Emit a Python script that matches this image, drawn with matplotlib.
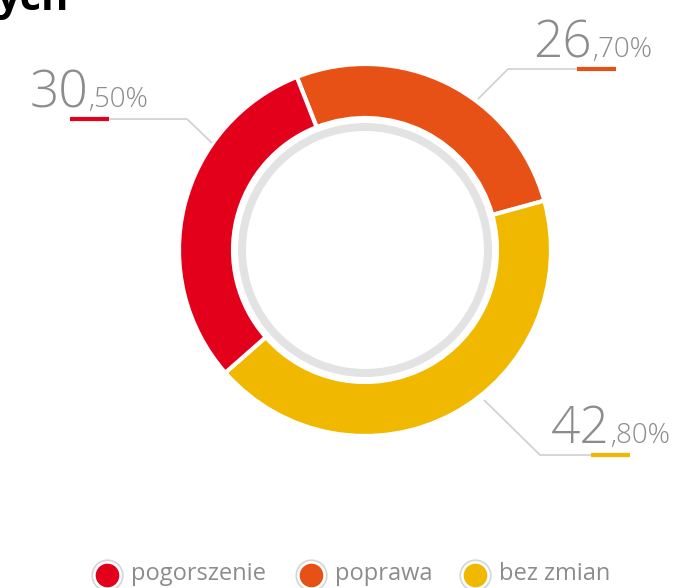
import matplotlib
matplotlib.use("Agg")
import matplotlib.pyplot as plt
from matplotlib.patches import Wedge

# data
categories = ["pogorszenie", "poprawa", "bez zmian"]
values = [30.5, 26.7, 42.8]
int_parts = ["30", "26", "42"]
dec_parts = [",50%", ",70%", ",80%"]
colors = ["#E2001A", "#E85115", "#F0B900"]

W, H = 675, 588
plt.rcParams['font.family'] = ['Open Sans', 'DejaVu Sans']

fig = plt.figure(figsize=(W / 100, H / 100), dpi=100)
ax = fig.add_axes([0, 0, 1, 1])


def Y(y):
    # image row -> data y
    return H - y


cx, cy = 365, Y(250)
r_out, r_in = 186, 132

# clockwise order in the ring: poprawa, bez zmian, pogorszenie
order = [1, 2, 0]
ax.pie([values[i] for i in order], colors=[colors[i] for i in order],
       startangle=111.5, counterclock=False, center=(cx, cy), radius=r_out,
       wedgeprops=dict(width=r_out - r_in, edgecolor='white', linewidth=3),
       frame=True)
ax.set_xlim(0, W)
ax.set_ylim(0, H)
ax.set_aspect('equal')
ax.axis('off')

# inner grey ring
ax.add_patch(Wedge((cx, cy), 127, 0, 360, width=8, color='#E3E3E3', lw=0))

# labels: split x, baseline, underline x0, x1, underline y, leader path
label_pos = [
    (88, 107, 70, 109, 119, [(109, 119), (187, 119), (212, 143)]),
    (592, 57, 577, 616, 69, [(577, 69), (508, 69), (478, 99)]),
    (610, 443, 591, 630, 455, [(591, 455), (540, 455), (484, 400)]),
]
grey = '#8C8C8C'
for i, (xs, yb, u0, u1, uy, path) in enumerate(label_pos):
    ax.text(xs, Y(yb), int_parts[i], ha='right', va='baseline',
            fontsize=37, color=grey, fontweight='light')
    ax.text(xs, Y(yb), dec_parts[i], ha='left', va='baseline',
            fontsize=20, color=grey, fontweight='light')
    px = [p[0] for p in path]
    py = [Y(p[1]) for p in path]
    ax.plot(px, py, color='#CFCFCF', lw=1.2, solid_capstyle='butt')
    ax.plot([u0, u1], [Y(uy), Y(uy)], color=colors[i], lw=3,
            solid_capstyle='butt')

# legend
leg_x = [107, 311, 475]
leg_y = Y(575)
for i, name in enumerate(categories):
    ax.plot(leg_x[i], leg_y, 'o', ms=22, mfc='white', mec='#D5D5D5', mew=1.2)
    ax.plot(leg_x[i], leg_y, 'o', ms=17, mfc=colors[i], mec='none')
    ax.text(leg_x[i] + 24, leg_y + 1, name, ha='left', va='center',
            fontsize=17, color=grey)

# cut-off title
ax.text(-4, Y(10), "ych", ha='left', va='baseline', fontsize=30,
        fontweight='bold', color='black')

fig.savefig("out.png", dpi=100)
